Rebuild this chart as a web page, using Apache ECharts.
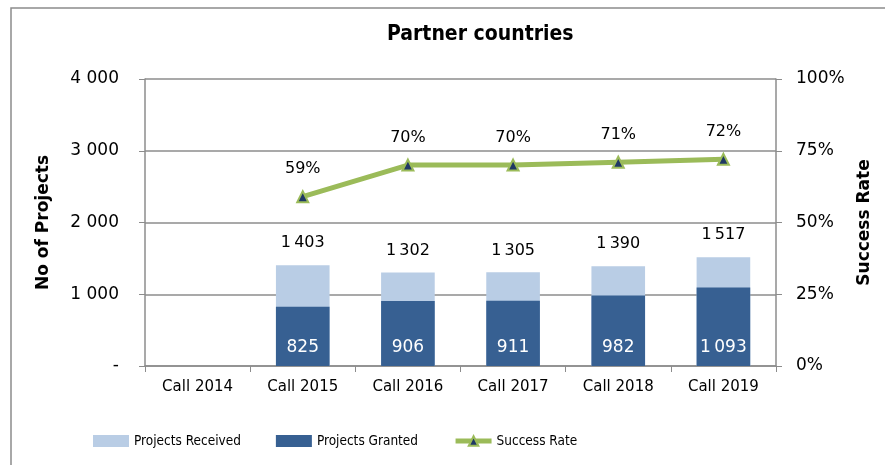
<!DOCTYPE html>
<html>
<head>
<meta charset="utf-8">
<script src="https://cdn.jsdelivr.net/npm/echarts@6/dist/echarts.min.js"></script>
<style>
  html, body { margin: 0; padding: 0; background: #fff; }
  #chart { width: 885px; height: 465px; }
</style>
</head>
<body>
<div id="chart"></div>
<script>
const categories = ['Call 2014', 'Call 2015', 'Call 2016', 'Call 2017', 'Call 2018', 'Call 2019'];
const projectsReceived = [null, 1403, 1302, 1305, 1390, 1517];
const projectsGranted = [null, 825, 906, 911, 982, 1093];
const successRate = [null, 59, 70, 70, 71, 72];
const leftTicks = ['-', '1 000', '2 000', '3 000', '4 000'];

const fmt = v => String(v).replace(/\B(?=(\d{3})+(?!\d))/g, '\u2009');

const chart = echarts.init(document.getElementById('chart'));

const option = {
  backgroundColor: '#fff',
  animation: false,
  textStyle: { fontFamily: 'DejaVu Sans' },
  graphic: [{
    type: 'rect',
    shape: { x: 11, y: 8, width: 900, height: 500 },
    style: { fill: 'none', stroke: '#8c8c8c', lineWidth: 1.5 },
    silent: true
  }],
  title: {
    text: 'Partner countries',
    left: 382,
    top: 19,
    textStyle: { fontFamily: 'DejaVu Sans Condensed', fontWeight: 'bold', fontSize: 21, color: '#000' }
  },
  legend: {
    left: 88,
    top: 429,
    itemWidth: 36,
    itemHeight: 12,
    itemGap: 35,
    textStyle: { fontFamily: 'DejaVu Sans Condensed', fontSize: 13.5, color: '#000' },
    data: [
      { name: 'Projects Received', icon: 'rect' },
      { name: 'Projects Granted', icon: 'rect' },
      { name: 'Success Rate', lineStyle: { width: 5 } }
    ]
  },
  grid: { left: 145, right: 109, top: 79, bottom: 99 },
  xAxis: {
    type: 'category',
    data: categories,
    axisLine: { lineStyle: { color: '#8c8c8c', width: 1.5 } },
    axisTick: { show: true, alignWithLabel: false, length: 6, lineStyle: { color: '#8c8c8c' } },
    axisLabel: { color: '#000', fontSize: 15, margin: 14 }
  },
  yAxis: [{
    type: 'value',
    min: 0, max: 4000, interval: 1000,
    name: 'No of Projects',
    nameLocation: 'middle',
    nameGap: 93,
    nameTextStyle: { fontWeight: 'bold', fontSize: 17, color: '#000' },
    axisLine: { show: true, lineStyle: { color: '#8c8c8c', width: 1.5 } },
    axisTick: { show: true, length: 6, lineStyle: { color: '#8c8c8c' } },
    axisLabel: { color: '#000', fontSize: 17, margin: 26, formatter: v => leftTicks[v / 1000] },
    splitLine: { lineStyle: { color: '#8c8c8c', width: 1.5 } }
  }, {
    type: 'value',
    min: 0, max: 100, interval: 25,
    name: 'Success Rate',
    nameLocation: 'middle',
    nameGap: 80,
    nameRotate: 90,
    nameTextStyle: { fontWeight: 'bold', fontSize: 17, color: '#000' },
    axisLine: { show: true, lineStyle: { color: '#8c8c8c', width: 1.5 } },
    axisTick: { show: true, length: 6, lineStyle: { color: '#8c8c8c' } },
    axisLabel: { color: '#000', fontSize: 17, margin: 20, formatter: '{value}%' },
    splitLine: { show: false }
  }],
  series: [{
    name: 'Projects Received',
    type: 'bar',
    data: projectsReceived,
    barWidth: '51%',
    barGap: '-100%',
    itemStyle: { color: '#b9cde5' },
    label: {
      show: true, position: 'top', distance: 14,
      color: '#000', fontSize: 16,
      formatter: p => fmt(p.value)
    }
  }, {
    name: 'Projects Granted',
    type: 'bar',
    data: projectsGranted,
    barWidth: '51%',
    itemStyle: { color: '#376092' },
    label: {
      show: true, position: 'insideBottom', distance: 10,
      color: '#fff', fontSize: 17,
      formatter: p => fmt(p.value)
    }
  }, {
    name: 'Success Rate',
    type: 'line',
    yAxisIndex: 1,
    data: successRate,
    symbol: 'triangle',
    symbolSize: 11,
    lineStyle: { color: '#9bbb59', width: 5 },
    itemStyle: { color: '#1f3864', borderColor: '#9bbb59', borderWidth: 2 },
    label: {
      show: true, position: 'top', distance: 13,
      color: '#000', fontSize: 16,
      formatter: '{c}%'
    }
  }]
};

chart.setOption(option);
</script>
</body>
</html>
